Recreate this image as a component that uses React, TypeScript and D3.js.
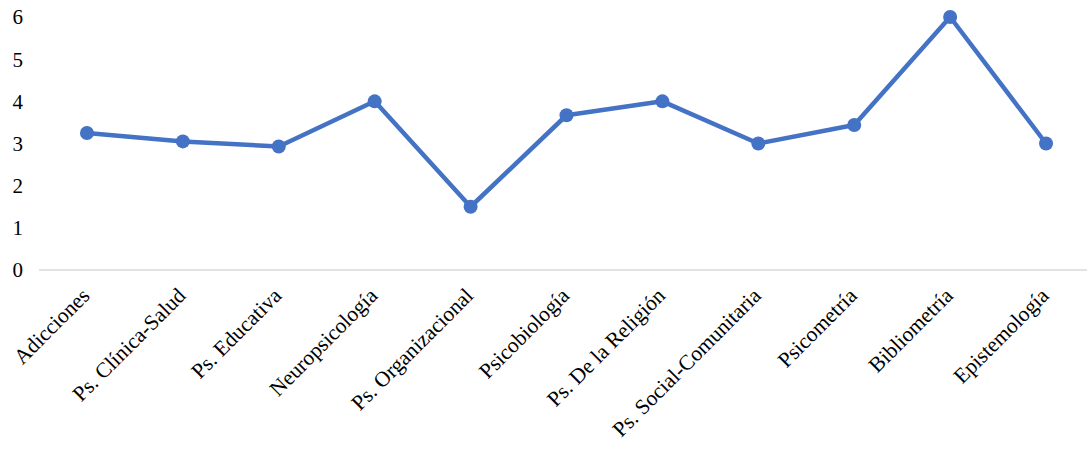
import { useEffect, useRef } from "react";
import * as d3 from "d3";

const categories = [
  "Adicciones",
  "Ps. Clínica-Salud",
  "Ps. Educativa",
  "Neuropsicología",
  "Ps. Organizacional",
  "Psicobiología",
  "Ps. De la Religión",
  "Ps. Social-Comunitaria",
  "Psicometría",
  "Bibliometría",
  "Epistemología",
];
const values = [3.25, 3.05, 2.93, 4, 1.5, 3.67, 4, 3, 3.44, 6, 3];
const yTicks = [0, 1, 2, 3, 4, 5, 6];

const width = 1087;
const height = 450;
const margin = { top: 17, left: 39, right: 1094, bottom: 270 };
const font = "Liberation Serif, Times New Roman, serif";

export default function App() {
  const ref = useRef(null);

  useEffect(() => {
    draw();
  });

  function draw() {
    const svg = d3.select(ref.current);
    svg.selectAll("*").remove();

    const x = d3
      .scaleBand()
      .domain(categories)
      .range([margin.left, margin.right])
      .padding(0);
    const y = d3.scaleLinear().domain([0, 6]).range([margin.bottom, margin.top]);
    const cx = (c: string) => x(c)! + x.bandwidth() / 2;

    // y tick labels
    svg
      .append("g")
      .selectAll("text")
      .data(yTicks)
      .enter()
      .append("text")
      .attr("x", 23)
      .attr("y", (d) => y(d))
      .attr("dy", "0.35em")
      .attr("text-anchor", "end")
      .attr("font-family", font)
      .attr("font-size", 21)
      .attr("fill", "#000")
      .text((d) => d);

    // baseline
    svg
      .append("line")
      .attr("x1", margin.left)
      .attr("x2", margin.right)
      .attr("y1", y(0))
      .attr("y2", y(0))
      .attr("stroke", "#d9d9d9")
      .attr("stroke-width", 1.5);

    // category labels
    svg
      .append("g")
      .selectAll("text")
      .data(categories)
      .enter()
      .append("text")
      .attr(
        "transform",
        (d) => "translate(" + (cx(d) + 4) + "," + (y(0) + 27) + ")rotate(-45)"
      )
      .attr("text-anchor", "end")
      .attr("font-family", font)
      .attr("font-size", 21.5)
      .attr("fill", "#000")
      .text((d) => d);

    const line = d3
      .line<number>()
      .x((d, i) => cx(categories[i]))
      .y((d) => y(d));

    svg
      .append("path")
      .datum(values)
      .attr("d", line)
      .attr("fill", "none")
      .attr("stroke", "#4472C4")
      .attr("stroke-width", 4.5)
      .attr("stroke-linejoin", "round");

    svg
      .append("g")
      .selectAll("circle")
      .data(values)
      .enter()
      .append("circle")
      .attr("cx", (d, i) => cx(categories[i]))
      .attr("cy", (d) => y(d))
      .attr("r", 7)
      .attr("fill", "#4472C4");
  }

  return (
    <svg
      ref={ref}
      width={width}
      height={height}
      style={{ position: "absolute", left: 0, top: 0, background: "#fff" }}
    ></svg>
  );
}
